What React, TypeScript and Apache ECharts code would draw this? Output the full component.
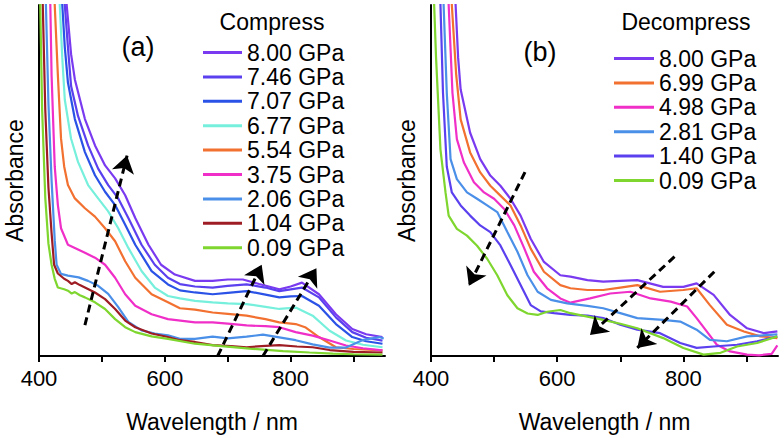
import React, { useEffect, useRef } from "react";
import * as echarts from "echarts";

// ---------- Panel (a): Compress ----------
const compressNames = ["8.00 GPa", "7.46 GPa", "7.07 GPa", "6.77 GPa", "5.54 GPa", "3.75 GPa", "2.06 GPa", "1.04 GPa", "0.09 GPa"];
const compressColors = ["#7A3AF0", "#5A40EE", "#2A52E6", "#76F0DC", "#F27030", "#F02EC8", "#4A8FE8", "#9E1C24", "#7ED62E"];

const a800 = [[442,120],[444,100],[451,86],[457,78.8],[473,67.5],[489,60],[505,54.3],[521,50.6],[537,45.8],[553,39.3],[574,31.7],[594,26],[616,23.2],[648,21.4],[676,21.4],[700,21.8],[724,21.8],[750,20.5],[782,19],[800,19.8],[818,20.9],[845,17.6],[872,11.9],[898,7.7],[920,6.2],[946,5.4]];
const a746 = [[439,120],[441,100],[446,88],[451,76.9],[462,68.4],[478,60],[494,53.4],[510,48.7],[526,44.9],[542,39.3],[563,31.7],[584,26],[605,22.3],[624,20.5],[648,19.8],[676,19.5],[700,20.0],[730,20.4],[760,19.5],[782,18.5],[800,19.0],[818,19.5],[845,16.7],[872,11],[898,6.8],[920,5.2],[946,4.4]];
const a707 = [[435,120],[437,100],[441,88],[446,77.9],[457,67.5],[473,58.1],[489,51.5],[505,46.8],[521,43],[537,37.4],[553,31.7],[579,24.2],[605,20.4],[624,18.7],[648,18.1],[676,17.6],[700,18.0],[730,18.5],[760,17.5],[782,16.7],[800,17.0],[818,17.1],[845,14.3],[872,9.1],[898,5.4],[920,4.2],[946,3.5]];
const a677 = [[431,120],[433,100],[437,85],[441,73],[451,61.9],[462,55.3],[478,48.7],[494,44.9],[510,41.2],[526,36.4],[542,30.8],[563,24.2],[584,19.5],[605,17.1],[624,16.4],[648,15.7],[676,15.3],[700,15.0],[730,14.8],[760,14.0],[782,13.4],[808,13.8],[835,11.5],[862,7.2],[888,4.4],[915,3.2],[946,2.5]];
const a554 = [[423,120],[425,100],[430,80],[435,62],[440,54],[446,48.7],[457,44.9],[473,42.1],[489,39.7],[505,36.4],[521,32.7],[537,27],[553,22.3],[579,17.6],[605,15.3],[624,13.6],[648,13.2],[676,12.4],[700,12],[730,11.5],[760,10.5],[782,9.6],[808,9.1],[823,8.2],[845,5.4],[872,2.5],[900,2.0],[946,1.6]];
const a375 = [[416,120],[418,100],[420,80],[425,54],[430,43],[435,36.4],[446,31.7],[457,30.8],[473,29.4],[489,28],[505,26],[521,22.3],[537,17.6],[553,14.3],[579,11.9],[605,10.5],[648,9.6],[676,9.6],[700,9.2],[730,8.7],[760,8.5],[782,8.2],[808,6.8],[835,5.8],[862,4.4],[888,3.0],[915,2.2],[946,1.6]];
const a206 = [[410,120],[411,100],[415,72],[420,50],[425,33],[428,26],[435,23.4],[446,22.9],[463,22.4],[478,21.4],[494,20],[510,17.7],[526,13.9],[542,9.7],[563,7.3],[584,6.4],[605,5.9],[624,4.9],[648,4.9],[676,5.5],[700,5.0],[730,5.5],[756,6.1],[782,5.3],[808,4.5],[835,3.3],[862,2.4],[888,2.4],[914,4.5],[941,5.4],[948,5.0]];
const a104 = [[405,120],[406,100],[410,70],[415,48],[420,35],[424,26],[430,23.5],[440,22],[446,21.4],[452,20.5],[457,21],[465,20.2],[473,19.5],[489,18.1],[505,16.2],[521,13.4],[537,10.1],[553,8.2],[579,6.4],[605,5.4],[624,4.5],[648,4.0],[676,3.1],[705,2.8],[730,2.5],[760,2.9],[782,3.1],[810,2.7],[835,2.5],[862,1.7],[900,1.2],[946,1.0]];
const a009 = [[401,120],[402,100],[405,70],[410,45],[415,32],[420,26],[425,22],[430,19.5],[440,19],[446,18.6],[452,17.8],[457,18.2],[465,17.3],[473,16.7],[489,15.3],[505,13.4],[521,10.5],[537,8.2],[553,6.8],[579,5.6],[605,4.9],[648,3.5],[690,2.8],[735,2.1],[788,1.4],[830,1.0],[867,0.7],[900,0.5],[946,0.4]];
const compressData = [a800, a746, a707, a677, a554, a375, a206, a104, a009];

// ---------- Panel (b): Decompress ----------
const decompressNames = ["8.00 GPa", "6.99 GPa", "4.98 GPa", "2.81 GPa", "1.40 GPa", "0.09 GPa"];
const decompressColors = ["#7A3AF0", "#F27030", "#F02EC8", "#4A8FE8", "#5A40EE", "#7ED62E"];

const b800 = [[437,120],[439,100],[443,85],[447,75.9],[462,63.6],[478,56.1],[494,51.4],[510,48.5],[526,44.8],[542,40],[558,33.4],[579,26.8],[605,23],[621,22.6],[648,21.6],[673,21.2],[700,21.4],[727,21.6],[768,19.7],[800,19.7],[821,20.7],[848,17.4],[874,11.7],[901,7.9],[928,6.5],[949,7]];
const b699 = [[431,120],[433,100],[440,80],[447,67.4],[462,58],[478,52.3],[494,48.5],[510,45.7],[526,42.9],[542,37.2],[558,30.6],[579,24],[605,20.2],[621,19.3],[648,18.8],[673,18.8],[700,19.5],[727,20.2],[763,18.3],[800,18.8],[821,19.3],[842,14.5],[869,8.9],[896,7],[922,5.6],[949,5.1]];
const b498 = [[426,120],[428,100],[434,75],[441,61.8],[452,55.2],[468,49.5],[484,46.6],[500,44.8],[516,41.9],[532,37.2],[548,30.6],[563,24],[584,19.3],[605,16.4],[621,15.2],[652,16.4],[684,17.8],[716,18.3],[748,16.4],[780,15.5],[806,14.1],[821,10.8],[837,7],[853,3.2],[874,1.3],[901,0.4],[920,0.2],[940,0.6],[949,3]];
const b281 = [[418,120],[420,100],[425,75],[431,56.1],[441,50.4],[457,46.6],[473,44.8],[489,42.9],[505,41],[521,35.3],[537,29.7],[553,23],[569,18.3],[590,16],[616,15],[648,14.3],[673,13.6],[700,12.2],[727,10.8],[768,10.3],[795,9.8],[821,7.5],[842,4.6],[869,4.2],[901,5.6],[938,6.0],[949,6.2]];
const b140 = [[413,120],[415,100],[419,75],[425,54],[433,46.6],[447,42.9],[462,40],[478,37.2],[494,35.3],[510,31.5],[526,25.9],[542,20.2],[558,14.5],[574,12.7],[595,12.2],[621,11.7],[648,11.5],[673,10.8],[700,8.9],[727,7.5],[763,6.5],[795,3.7],[821,2.3],[848,2.7],[885,3.2],[917,4.2],[949,5.6]];
const b009 = [[403,120],[405,100],[408,85],[415,58.8],[423,46.6],[428,40],[441,36.2],[457,34.3],[473,31.4],[489,27.7],[505,23],[521,17.3],[537,13.6],[553,12.1],[569,11.7],[584,12.6],[605,13.1],[621,12.2],[648,11.2],[673,10.3],[700,9.2],[727,7.9],[768,5.1],[800,2.3],[832,0.4],[859,0.9],[885,2.7],[917,3.7],[949,5.6]];
const decompressData = [b800, b699, b498, b281, b140, b009];

// ---------- Arrows (start -> end) ----------
const compressArrows = [[[473, 8.8], [540, 57.1]], [[684, 0], [754, 26]], [[756, 0], [841, 25]]];
const decompressArrows = [[[549, 52.4], [460, 20]], [[786, 28.3], [652, 6]], [[849, 24], [727, 2.3]]];

// ---------- Axis ticks ----------
const xTickValues = [400, 500, 600, 700, 800, 900];
const xLabelValues = [400, 600, 800];

const FONT = "Liberation Sans, Arial, sans-serif";

export default function App() {
  const ref = useRef<HTMLDivElement>(null);
  useEffect(() => {
    if (!ref.current) return;
    const chart = echarts.init(ref.current, undefined, { renderer: "svg" });

    const makeX = (gridIndex: number) => ({
      type: "value",
      gridIndex,
      min: 400,
      max: 950,
      interval: 100,
      name: "Wavelength / nm",
      nameLocation: "middle",
      nameGap: 54,
      nameTextStyle: { fontSize: 23, color: "#000", fontFamily: FONT },
      axisLine: { show: true, onZero: false, lineStyle: { color: "#000", width: 2 } },
      axisTick: { show: true, customValues: xTickValues, length: 6, lineStyle: { color: "#000", width: 2 } },
      axisLabel: { show: true, customValues: xLabelValues, fontSize: 22, color: "#000", fontFamily: FONT, margin: 11 },
      splitLine: { show: false },
    });
    const makeY = (gridIndex: number) => ({
      type: "value",
      gridIndex,
      min: 0,
      max: 100,
      name: "Absorbance",
      nameLocation: "middle",
      nameGap: 13,
      nameTextStyle: { fontSize: 23, color: "#000", fontFamily: FONT },
      axisLine: { show: true, onZero: false, lineStyle: { color: "#000", width: 2 } },
      axisTick: { show: false },
      axisLabel: { show: false },
      splitLine: { show: false },
    });

    const lineSeries = (names: string[], colors: string[], data: number[][][], idx: number) =>
      names.map((n, i) => ({
        type: "line",
        name: n,
        xAxisIndex: idx,
        yAxisIndex: idx,
        data: data[i],
        showSymbol: false,
        symbol: "none",
        clip: true,
        silent: true,
        color: colors[i],
        lineStyle: { color: colors[i], width: 2.2 },
        z: 2,
      }));

    const arrowSeries = (arrows: number[][][], idx: number) => ({
      type: "lines",
      coordinateSystem: "cartesian2d",
      xAxisIndex: idx,
      yAxisIndex: idx,
      silent: true,
      symbol: ["none", "arrow"],
      symbolSize: 17,
      lineStyle: { color: "#000", width: 3, type: [8, 5], opacity: 1 },
      data: arrows.map((c) => ({ coords: c })),
      z: 5,
    });

    const legendCommon = {
      orient: "vertical",
      icon: "rect",
      itemHeight: 3,
      itemGap: 1.4,
      padding: 0,
      selectedMode: false,
      textStyle: { fontSize: 23, color: "#000", fontFamily: FONT, lineHeight: 22 },
    };

    const titleStyle = (text: string, size: number) => ({
      text,
      fontSize: size,
      fontFamily: FONT,
      fill: "#000",
      textAlign: "center",
      textVerticalAlign: "middle",
      align: "center",
      verticalAlign: "middle",
    });

    chart.setOption({
      animation: false,
      backgroundColor: "#fff",
      grid: [
        { left: 39, top: 5, width: 346, height: 354 },
        { left: 431, top: 5, width: 347, height: 353 },
      ],
      xAxis: [makeX(0), makeX(1)],
      yAxis: [makeY(0), makeY(1)],
      legend: [
        { ...legendCommon, left: 203, top: 41, itemWidth: 39, data: compressNames },
        { ...legendCommon, left: 614, top: 47, itemWidth: 40, data: decompressNames },
      ],
      graphic: [
        { type: "text", x: 272, y: 22, style: titleStyle("Compress", 23) },
        { type: "text", x: 686, y: 22, style: titleStyle("Decompress", 23) },
        { type: "text", x: 138, y: 47, style: titleStyle("(a)", 27) },
        { type: "text", x: 540, y: 52, style: titleStyle("(b)", 27) },
      ],
      series: [
        ...lineSeries(compressNames, compressColors, compressData, 0),
        ...lineSeries(decompressNames, decompressColors, decompressData, 1),
        arrowSeries(compressArrows, 0),
        arrowSeries(decompressArrows, 1),
      ],
    });
    return () => chart.dispose();
  }, []);
  return <div ref={ref} style={{ position: "fixed", left: 0, top: 0, width: 784, height: 438 }} />;
}
